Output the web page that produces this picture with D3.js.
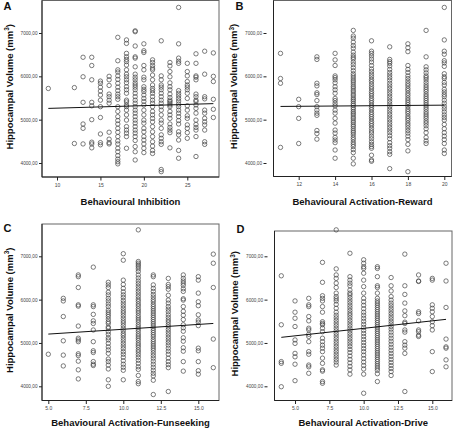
<!DOCTYPE html>
<html><head><meta charset="utf-8">
<script src="https://cdn.jsdelivr.net/npm/d3@7"></script>
<style>body{margin:0;background:#fff}svg{display:block;font-family:"Liberation Sans",Arial,sans-serif}</style>
</head><body><svg id="c" width="453" height="429"></svg>
<script>
// ---------- data ----------
const yTicks = [4000, 5000, 6000, 7000];

// A: Behavioural Inhibition
const aTicks = [10, 15, 20, 25];
const aCols = [9, 12, 13, 14, 15, 16, 17, 18, 19, 20, 21, 22, 23, 24, 25, 26, 27, 28];
const aVals = [
  [5720],
  [5740, 4450],
  [6440, 5990, 5400, 4900, 4800, 4440],
  [6440, 6250, 5920, 5400, 5320, 5000, 4480, 4440, 4350],
  [5890, 5840, 5750, 5660, 5570, 5450, 5300, 5050, 4670, 4470, 4420],
  [6000, 5920, 5790, 5590, 5530, 5450, 5380, 4710, 4550, 4470, 4440],
  [6900, 6360, 6150, 6100, 6010, 5930, 5840, 5750, 5670, 5590, 5530, 5470, 5300, 5190, 5070, 4980, 4900, 4800, 4710, 4610, 4510, 4440, 4340, 4260, 4170, 4090, 4030, 3980],
  [6840, 6760, 6530, 6450, 6390, 6340, 6260, 6150, 6050, 5990, 5920, 5850, 5760, 5690, 5610, 5450, 5410, 5340, 5300, 5220, 5110, 4990, 4840, 4760, 4690, 4610, 4340],
  [7050, 7030, 6700, 6450, 6420, 6220, 6050, 5980, 5920, 5850, 5800, 5750, 5690, 5610, 5530, 5450, 5380, 5300, 5220, 5150, 5070, 4990, 4920, 4840, 4760, 4690, 4610, 4520, 4380, 4260, 4070],
  [6750, 6590, 6550, 6250, 6150, 5980, 5920, 5760, 5700, 5650, 5570, 5490, 5420, 5340, 5220, 5110, 4990, 4920, 4800, 4720, 4610, 4530, 4440, 4340, 4240],
  [6380, 6320, 6250, 6190, 6150, 6030, 5920, 5800, 5720, 5670, 5610, 5530, 5450, 5380, 5300, 5190, 5110, 5030, 4950, 4840, 4720, 4610, 4490, 4390, 4290, 4220],
  [6820, 6010, 5920, 5800, 5750, 5690, 5610, 5530, 5450, 5380, 5300, 5220, 5110, 4990, 4920, 4800, 4650, 4570, 4490, 4430, 3850, 3800],
  [6320, 6240, 6110, 5990, 5850, 5760, 5690, 5590, 5510, 5450, 5420, 5380, 5340, 5300, 5190, 5110, 5030, 4900, 4820, 4760, 4700, 4350],
  [7590, 6750, 6420, 6350, 6300, 5670, 5610, 5550, 5490, 5430, 5360, 5300, 5220, 5150, 5070, 4980, 4900, 4720, 4650, 4530, 4290, 4110],
  [6300, 6110, 6010, 5880, 5800, 5750, 5690, 5610, 5490, 5320, 5220, 5090, 5030, 4880, 4800, 4700, 4570],
  [6520, 6300, 6010, 5980, 5920, 5590, 5530, 5450, 5420, 5340, 5260, 5150, 4990, 4890, 4820, 4760, 4610, 4150],
  [6580, 6050, 5530, 5480, 5220, 5150, 5030, 4950, 4880, 4760, 4490, 4430],
  [6540, 6000, 5880, 5470, 5240, 5050]
];
const aFitX = [9, 28], aFitY = [5260, 5370];

// B: Behavioural Activation-Reward
const bTicks = [12, 14, 16, 18, 20];
const bCols = [11, 12, 13, 14, 15, 16, 17, 18, 19, 20];
const bVals = [
  [6530, 5950, 5840, 4360],
  [5470, 5300, 5030, 4450],
  [6450, 6390, 5840, 5780, 5620, 5580, 5440, 5300, 5220, 5150, 5100, 4750, 4680, 4550],
  [6530, 6380, 6250, 6010, 5970, 5920, 5850, 5760, 5690, 5610, 5490, 5440, 5380, 5320, 5220, 5150, 5030, 4920, 4760, 4690, 4590, 4530, 4470, 4300, 4110],
  [7060, 6930, 6880, 6790, 6710, 6650, 6560, 6490, 6440, 6400, 6330, 6270, 6200, 6130, 6060, 6010, 5960, 5910, 5870, 5820, 5770, 5730, 5680, 5640, 5590, 5550, 5500, 5460, 5420, 5370, 5330, 5280, 5240, 5190, 5150, 5110, 5060, 5020, 4970, 4930, 4880, 4840, 4790, 4740, 4700, 4650, 4590, 4540, 4480, 4430, 4380, 4310, 4240, 4110, 3980],
  [6820, 6580, 6530, 6470, 6400, 6330, 6250, 6170, 6110, 6050, 5990, 5930, 5880, 5820, 5760, 5710, 5650, 5600, 5550, 5490, 5440, 5390, 5330, 5280, 5230, 5170, 5120, 5070, 5020, 4960, 4910, 4860, 4800, 4740, 4690, 4620, 4560, 4490, 4430, 4380, 4340, 4180, 4070, 4040],
  [6680, 6390, 6340, 6300, 6240, 6160, 6090, 6030, 5970, 5910, 5840, 5780, 5720, 5660, 5600, 5540, 5480, 5420, 5360, 5300, 5240, 5180, 5120, 5060, 5000, 4940, 4880, 4820, 4760, 4700, 4630, 4560, 4470, 4400, 4340, 4260, 4200, 3870],
  [6750, 6660, 6570, 6250, 6160, 6090, 6010, 5950, 5890, 5830, 5780, 5720, 5670, 5610, 5560, 5500, 5450, 5400, 5350, 5300, 5240, 5190, 5140, 5080, 5030, 4980, 4920, 4870, 4810, 4750, 4690, 4620, 4540, 4430, 4280, 3800],
  [7060, 6450, 6220, 6150, 6080, 6010, 5970, 5920, 5860, 5800, 5750, 5700, 5650, 5590, 5540, 5490, 5440, 5390, 5340, 5290, 5240, 5180, 5130, 5080, 5030, 4970, 4920, 4860, 4790, 4700, 4590, 4510, 4450],
  [7590, 6840, 6580, 6510, 6360, 6310, 6230, 6060, 5990, 5950, 5860, 5800, 5700, 5640, 5580, 5530, 5450, 5380, 5310, 5250, 5180, 5110, 5050, 4990, 4890, 4790, 4700, 4620, 4540, 4450, 4300, 4220]
];
const bFitX = [11, 20], bFitY = [5305, 5335];

// C: Behavioural Activation-Funseeking
const cTicks = [5, 7.5, 10, 12.5, 15];
const cCols = [5, 6, 7, 8, 9, 10, 11, 12, 13, 14, 15, 16];
const cVals = [
  [4740],
  [6030, 5970, 5610, 5050, 4720, 4470],
  [6570, 6530, 6280, 5880, 5850, 5390, 5110, 5070, 5030, 4750, 4710, 4580, 4380, 4170],
  [6750, 5880, 5840, 5660, 5510, 5450, 5300, 5030, 4820, 4780, 4570, 4510, 4480],
  [6400, 6340, 6280, 6170, 6110, 6030, 5970, 5900, 5840, 5760, 5710, 5660, 5610, 5550, 5490, 5450, 5370, 5340, 5260, 5200, 5120, 5070, 4990, 4910, 4840, 4760, 4630, 4570, 4490, 4400, 4150, 4000],
  [7060, 6910, 6450, 6350, 6260, 6180, 6110, 6050, 5980, 5920, 5860, 5800, 5740, 5690, 5630, 5570, 5510, 5460, 5400, 5340, 5280, 5220, 5170, 5110, 5050, 4990, 4930, 4870, 4800, 4740, 4670, 4590, 4510, 4440, 4370, 4150],
  [7610, 6880, 6840, 6800, 6760, 6710, 6650, 6570, 6500, 6430, 6370, 6310, 6250, 6190, 6130, 6070, 6010, 5960, 5900, 5850, 5790, 5740, 5690, 5630, 5580, 5530, 5480, 5420, 5370, 5320, 5270, 5210, 5160, 5110, 5060, 5000, 4950, 4900, 4840, 4790, 4730, 4670, 4600, 4530, 4450, 4390, 4250, 4110, 4060],
  [6570, 6530, 6340, 6260, 6190, 6120, 6060, 6000, 5950, 5890, 5840, 5790, 5740, 5690, 5640, 5590, 5540, 5490, 5440, 5390, 5340, 5290, 5240, 5190, 5140, 5080, 5030, 4980, 4930, 4880, 4830, 4770, 4710, 4650, 4580, 4510, 4440, 4370, 4300, 4240, 4140, 3810],
  [6490, 6350, 6300, 6240, 6100, 5990, 5920, 5840, 5780, 5720, 5650, 5590, 5530, 5480, 5420, 5370, 5310, 5250, 5190, 5130, 5070, 5010, 4950, 4880, 4810, 4740, 4650, 4570, 4500, 4430, 3880],
  [6570, 6490, 6430, 6380, 6330, 6250, 6190, 6020, 5990, 5840, 5730, 5640, 5540, 5420, 5350, 5270, 5120, 5040, 4890, 4810, 4570, 4350],
  [6530, 6450, 6150, 5950, 5860, 5650, 5530, 5480, 5400, 4880, 4820, 4570, 4360, 4280],
  [7050, 6840, 6280, 5090, 4430]
];
const cFitX = [5, 16], cFitY = [5205, 5450];

// D: Behavioural Activation-Drive
const dTicks = [5, 7.5, 10, 12.5, 15];
const dCols = [4, 5, 6, 7, 8, 9, 10, 11, 12, 13, 14, 15, 16];
const dVals = [
  [6550, 5420, 4570, 4530, 3990],
  [5970, 5710, 5570, 5380, 5070, 4990, 4760, 4680, 4510, 4130],
  [6030, 5880, 5840, 5610, 5510, 5340, 5300, 5200, 5150, 5030, 4800, 4740, 4490, 4450, 4300],
  [6860, 6400, 6090, 6030, 5970, 5840, 5710, 5490, 5450, 5420, 5340, 5260, 5110, 5030, 4950, 4880, 4800, 4650, 4530, 4380, 4350, 4110, 4070],
  [7610, 6710, 6570, 6490, 6380, 6280, 6150, 6070, 6020, 5970, 5890, 5800, 5710, 5640, 5580, 5520, 5460, 5400, 5340, 5280, 5220, 5160, 5100, 5040, 4980, 4920, 4860, 4800, 4740, 4680, 4620, 4560, 4490],
  [7070, 6530, 6450, 6380, 6320, 6220, 6150, 6110, 6050, 5990, 5930, 5870, 5810, 5750, 5690, 5640, 5580, 5520, 5460, 5400, 5340, 5280, 5220, 5160, 5100, 5040, 4980, 4920, 4850, 4780, 4700, 4620, 4540, 4460, 4380, 4280],
  [6920, 6840, 6760, 6720, 6610, 6450, 6300, 6150, 6030, 5950, 5870, 5790, 5710, 5640, 5570, 5500, 5430, 5360, 5290, 5220, 5150, 5080, 5010, 4940, 4870, 4800, 4720, 4640, 4560, 4480, 4400, 4280, 3840],
  [6760, 6720, 6530, 6320, 6280, 6150, 6030, 5970, 5920, 5870, 5820, 5770, 5720, 5670, 5620, 5570, 5520, 5470, 5420, 5370, 5320, 5270, 5220, 5170, 5120, 5070, 5020, 4970, 4920, 4870, 4820, 4770, 4720, 4670, 4620, 4570, 4520, 4470, 4420, 4370, 4290, 4110],
  [6510, 6320, 6200, 6070, 5990, 5920, 5860, 5800, 5740, 5680, 5620, 5560, 5500, 5440, 5380, 5320, 5250, 5180, 5110, 5040, 4970, 4900, 4830, 4760, 4690, 4620, 4550, 4480, 4410, 4340, 4250],
  [7050, 6320, 6120, 5920, 5740, 5630, 5480, 5450, 5300, 5250, 5030, 4950, 4880, 4760, 3880],
  [6570, 6430, 6420, 5720, 5680, 5510, 5300, 5260, 5180, 5150],
  [6490, 6450, 5880, 5800, 5720, 5610, 5490, 5400, 5300, 4800, 4340],
  [6840, 6430, 5820, 5090, 4910, 4880, 4610, 4450]
];
const dFitX = [4, 16], dFitY = [5130, 5545];

// ---------- layout ----------
const svg = d3.select("#c");
const yFmt = d => d3.format(".2f")(d).replace(".", ",");
const panels = [
  {letter: "A", title: "Behavioural Inhibition", cols: aCols, vals: aVals, fx: aFitX, fy: aFitY, ticks: aTicks, fmt: d3.format("d"),
   box: {l: 42, r: 219, t: 0.5, b: 177}, xa: [10, 25], xr: [57, 187.3], yr: [163, 33], gap: 0, lx: 3.5, ly: 10, tb: 27.5},
  {letter: "B", title: "Behavioural Activation-Reward", cols: bCols, vals: bVals, fx: bFitX, fy: bFitY, ticks: bTicks, fmt: d3.format("d"),
   box: {l: 273.5, r: 451.5, t: 0.5, b: 176.5}, xa: [12, 20], xr: [298.7, 444.3], yr: [163, 33], gap: 7, lx: 235.5, ly: 10, tb: 28},
  {letter: "C", title: "Behavioural Activation-Funseeking", cols: cCols, vals: cVals, fx: cFitX, fy: cFitY, ticks: cTicks, fmt: d3.format(".1f"),
   box: {l: 42, r: 219, t: 224, b: 400.5}, xa: [5, 15], xr: [48.3, 198.3], yr: [386.3, 256.3], gap: 0, lx: 3.5, ly: 232, tb: 25.5},
  {letter: "D", title: "Behavioural Activation-Drive", cols: dCols, vals: dVals, fx: dFitX, fy: dFitY, ticks: dTicks, fmt: d3.format(".1f"),
   box: {l: 274.5, r: 452, t: 231, b: 400.5}, xa: [4, 15], xr: [281.3, 432.3], yr: [386.3, 256.3], gap: 7, lx: 236.5, ly: 233, tb: 25.5}
];

panels.forEach(p => {
  const g = svg.append("g");
  const x = d3.scaleLinear().domain(p.xa).range(p.xr);
  const y = d3.scaleLinear().domain([4000, 7000]).range(p.yr);
  const B = p.box;

  // frame
  g.append("rect").attr("x", B.l).attr("y", B.t).attr("width", B.r - B.l).attr("height", B.b - B.t)
    .attr("fill", "none").attr("stroke", "#666").attr("stroke-width", 1);
  g.append("line").attr("x1", B.l).attr("x2", B.l).attr("y1", B.t).attr("y2", B.b).attr("stroke", "#222");
  g.append("line").attr("x1", B.l).attr("x2", B.r).attr("y1", B.b).attr("y2", B.b).attr("stroke", "#222");

  // y axis
  const ya = d3.axisLeft(y).tickValues(yTicks).tickFormat(yFmt).tickSize(3).tickPadding(1.5);
  const yg = g.append("g").attr("transform", `translate(${B.l - p.gap},0)`).call(ya);
  yg.select(".domain").remove();
  yg.selectAll("text").attr("font-size", 4.7).attr("fill", "#444").attr("font-family", "Liberation Sans, Arial");
  yg.selectAll("line").attr("stroke", "#222");

  // x axis
  const xa = d3.axisBottom(x).tickValues(p.ticks).tickFormat(p.fmt).tickSize(3.5).tickPadding(2.5);
  const xg = g.append("g").attr("transform", `translate(0,${B.b})`).call(xa);
  xg.select(".domain").remove();
  xg.selectAll("text").attr("font-size", 5).attr("fill", "#444").attr("font-family", "Liberation Sans, Arial");
  xg.selectAll("line").attr("stroke", "#222");

  // points
  const pts = [];
  p.cols.forEach((c, i) => p.vals[i].forEach(v => pts.push([c, v])));
  g.selectAll("circle.pt").data(pts).enter().append("circle")
    .attr("cx", d => x(d[0])).attr("cy", d => y(d[1])).attr("r", 2.2)
    .attr("fill", "none").attr("stroke", "#444").attr("stroke-width", 0.7);

  // fit line
  g.append("line").attr("x1", x(p.fx[0])).attr("y1", y(p.fy[0])).attr("x2", x(p.fx[1])).attr("y2", y(p.fy[1]))
    .attr("stroke", "#111").attr("stroke-width", 1);

  // titles
  g.append("text").attr("x", (B.l + B.r) / 2).attr("y", B.b + p.tb).attr("text-anchor", "middle")
    .attr("font-size", 9.5).attr("font-weight", "bold").attr("fill", "#111").text(p.title);
  const yt = g.append("text").attr("transform", `translate(${B.l - p.gap - 29.5},${(B.t + B.b) / 2 - 2}) rotate(-90)`)
    .attr("text-anchor", "middle").attr("font-size", 9.5).attr("font-weight", "bold").attr("fill", "#111");
  yt.append("tspan").text("Hippocampal Volume (mm");
  yt.append("tspan").attr("font-size", 6.5).attr("dy", -3.5).text("3");
  yt.append("tspan").attr("dy", 3.5).text(")");
  g.append("text").attr("x", p.lx).attr("y", p.ly).attr("font-size", 11).attr("font-weight", "bold").attr("fill", "#111").text(p.letter);
});
</script></body></html>
